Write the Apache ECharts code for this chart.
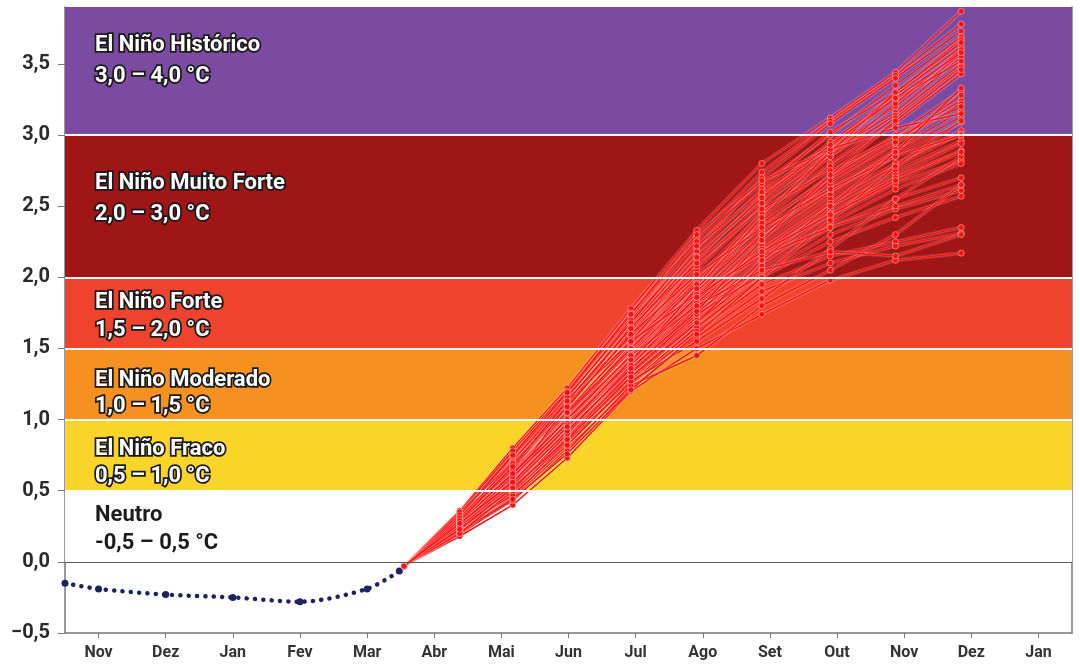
<!DOCTYPE html>
<html>
<head>
<meta charset="utf-8">
<script src="https://cdn.jsdelivr.net/npm/echarts@6/dist/echarts.min.js"></script>
<style>
  html, body { margin: 0; padding: 0; background: #fff; }
  #chart { width: 1080px; height: 666px; }
</style>
</head>
<body>
<div id="chart"></div>
<script>
// month ticks, Nov .. Jan of the following year
var months = ['Nov', 'Dez', 'Jan', 'Fev', 'Mar', 'Abr', 'Mai', 'Jun', 'Jul', 'Ago', 'Set', 'Out', 'Nov', 'Dez', 'Jan'];

// observed anomaly (dotted navy line)
var histX = [-0.5, 0, 1, 2, 3, 4, 4.48];
var histY = [-0.15, -0.19, -0.23, -0.25, -0.28, -0.19, -0.065];

// forecast dates (month index) and ensemble members
var fcX = [4.55, 5.38, 6.17, 6.98, 7.93, 8.91, 9.88, 10.9, 11.87, 12.85];
var members = [
  [-0.03, 0.36, 0.80, 1.22, 1.78, 2.33, 2.80, 3.12, 3.44, 3.87],
  [-0.03, 0.34, 0.76, 1.18, 1.72, 2.28, 2.74, 3.10, 3.42, 3.78],
  [-0.03, 0.33, 0.72, 1.15, 1.70, 2.20, 2.70, 3.08, 3.40, 3.73],
  [-0.03, 0.35, 0.78, 1.20, 1.75, 2.25, 2.66, 3.00, 3.35, 3.69],
  [-0.03, 0.31, 0.70, 1.12, 1.66, 2.18, 2.62, 3.02, 3.30, 3.67],
  [-0.03, 0.32, 0.68, 1.10, 1.60, 2.12, 2.58, 2.95, 3.28, 3.62],
  [-0.03, 0.30, 0.66, 1.08, 1.62, 2.15, 2.55, 2.90, 3.20, 3.57],
  [-0.03, 0.29, 0.71, 1.14, 1.58, 2.05, 2.50, 2.88, 3.16, 3.55],
  [-0.03, 0.28, 0.64, 1.05, 1.55, 2.08, 2.52, 2.85, 3.14, 3.50],
  [-0.03, 0.30, 0.62, 1.02, 1.52, 2.00, 2.45, 2.80, 3.12, 3.48],
  [-0.03, 0.27, 0.60, 1.00, 1.50, 1.98, 2.40, 2.78, 3.08, 3.43],
  [-0.03, 0.26, 0.63, 1.04, 1.48, 1.95, 2.36, 2.72, 3.00, 3.31],
  [-0.03, 0.29, 0.58, 0.98, 1.46, 1.92, 2.38, 2.70, 2.98, 3.24],
  [-0.03, 0.25, 0.61, 1.06, 1.54, 1.96, 2.30, 2.65, 2.94, 3.22],
  [-0.03, 0.28, 0.57, 0.96, 1.44, 1.90, 2.32, 2.62, 2.90, 3.17],
  [-0.03, 0.24, 0.56, 0.94, 1.42, 1.88, 2.28, 2.60, 2.88, 3.13],
  [-0.03, 0.27, 0.59, 1.01, 1.45, 1.85, 2.25, 2.58, 2.85, 3.09],
  [-0.03, 0.26, 0.55, 0.93, 1.40, 1.84, 2.22, 2.55, 2.80, 3.03],
  [-0.03, 0.23, 0.54, 0.95, 1.38, 1.82, 2.20, 2.52, 2.78, 3.01],
  [-0.03, 0.25, 0.53, 0.92, 1.36, 1.80, 2.18, 2.50, 2.75, 2.96],
  [-0.03, 0.27, 0.57, 0.90, 1.35, 1.78, 2.15, 2.48, 2.72, 2.94],
  [-0.03, 0.22, 0.52, 0.89, 1.34, 1.75, 2.12, 2.45, 2.70, 2.89],
  [-0.03, 0.24, 0.50, 0.88, 1.32, 1.72, 2.10, 2.42, 2.66, 2.82],
  [-0.03, 0.26, 0.55, 0.91, 1.30, 1.70, 2.08, 2.38, 2.62, 2.80],
  [-0.03, 0.21, 0.48, 0.86, 1.28, 1.68, 2.05, 2.35, 2.55, 2.70],
  [-0.03, 0.23, 0.51, 0.87, 1.33, 1.74, 2.02, 2.30, 2.48, 2.61],
  [-0.03, 0.20, 0.46, 0.84, 1.26, 1.65, 2.00, 2.25, 2.42, 2.57],
  [-0.03, 0.22, 0.49, 0.85, 1.25, 1.62, 1.95, 2.15, 2.25, 2.35],
  [-0.03, 0.19, 0.45, 0.80, 1.22, 1.58, 1.90, 2.10, 2.22, 2.31],
  [-0.03, 0.18, 0.40, 0.73, 1.20, 1.50, 1.74, 1.98, 2.12, 2.17],
  [-0.03, 0.20, 0.43, 0.78, 1.24, 1.45, 1.80, 2.05, 2.30, 2.65],
  [-0.03, 0.24, 0.47, 0.82, 1.27, 1.55, 1.85, 2.20, 2.55, 2.85],
  [-0.03, 0.32, 0.74, 1.16, 1.68, 2.22, 2.60, 2.92, 3.25, 3.52],
  [-0.03, 0.21, 0.44, 0.76, 1.21, 1.60, 2.00, 2.40, 2.78, 3.10],
  [-0.03, 0.35, 0.70, 1.05, 1.50, 1.95, 2.45, 2.85, 3.22, 3.60],
  [-0.03, 0.22, 0.58, 1.10, 1.65, 2.10, 2.48, 2.75, 2.98, 3.20],
  [-0.03, 0.30, 0.65, 1.12, 1.55, 1.88, 2.15, 2.35, 2.50, 2.65],
  [-0.03, 0.26, 0.60, 0.97, 1.40, 1.92, 2.42, 2.88, 3.30, 3.65],
  [-0.03, 0.33, 0.75, 1.19, 1.74, 2.30, 2.68, 2.90, 3.05, 3.15],
  [-0.03, 0.20, 0.50, 0.90, 1.38, 1.86, 2.30, 2.68, 2.95, 3.28],
  [-0.03, 0.28, 0.62, 1.00, 1.45, 1.80, 2.05, 2.18, 2.15, 2.30],
  [-0.03, 0.25, 0.54, 0.92, 1.36, 1.76, 2.26, 2.72, 3.10, 3.46],
  [-0.03, 0.31, 0.69, 1.09, 1.60, 2.02, 2.35, 2.62, 2.85, 3.00],
  [-0.03, 0.23, 0.52, 0.86, 1.30, 1.68, 2.12, 2.50, 2.88, 3.33],
  [-0.03, 0.29, 0.67, 1.13, 1.64, 2.14, 2.56, 2.93, 3.26, 3.58],
  [-0.03, 0.27, 0.56, 0.95, 1.42, 1.86, 2.18, 2.44, 2.68, 2.88]
];

// intensity bands
var bandNames = ['Neutro', 'El Niño Fraco', 'El Niño Moderado', 'El Niño Forte', 'El Niño Muito Forte', 'El Niño Histórico'];
var bandRanges = ['-0,5 – 0,5 °C', '0,5 – 1,0 °C', '1,0 – 1,5 °C', '1,5 – 2,0 °C', '2,0 – 3,0 °C', '3,0 – 4,0 °C'];
var bandLow = [0, 0.5, 1.0, 1.5, 2.0, 3.0];
var bandHigh = [0.5, 1.0, 1.5, 2.0, 3.0, 3.9];
var bandColors = ['#ffffff', '#fbd42a', '#f6901f', '#ef432e', '#a01515', '#7b4ba2'];
var bandOffsets = [3, 8, 9, 4, -7, -10];
var bandLineH = [28, 27, 26, 28, 31, 31];

var myChart = echarts.init(document.getElementById('chart'));

var bandData = bandNames.map(function (name, i) {
  var neutral = i === 0;
  return [{
    yAxis: bandLow[i],
    itemStyle: { color: bandColors[i] },
    label: {
      show: true,
      position: 'insideLeft',
      distance: 30,
      offset: [0, bandOffsets[i]],
      formatter: name + '\n' + bandRanges[i],
      color: neutral ? '#1c1c1c' : '#fff',
      textBorderColor: neutral ? 'transparent' : '#1a1a1a',
      textBorderWidth: neutral ? 0 : 3.5,
      fontFamily: 'Roboto',
      fontWeight: 'bold',
      fontSize: 22,
      lineHeight: bandLineH[i]
    }
  }, { yAxis: bandHigh[i] }];
});

var whiteLine = { color: '#fff', width: 2, type: 'solid' };

var series = [{
  name: 'faixas',
  type: 'line',
  data: [],
  z: 1,
  silent: true,
  markArea: { silent: true, data: bandData },
  markLine: {
    silent: true,
    symbol: 'none',
    label: { show: false },
    data: [
      { yAxis: 0.5, lineStyle: whiteLine },
      { yAxis: 1.0, lineStyle: whiteLine },
      { yAxis: 1.5, lineStyle: whiteLine },
      { yAxis: 2.0, lineStyle: whiteLine },
      { yAxis: 3.0, lineStyle: whiteLine },
      { yAxis: 0, lineStyle: { color: '#5a5a5a', width: 1.2, type: 'solid' } }
    ]
  }
}, {
  name: 'observado',
  type: 'line',
  z: 2,
  smooth: 0.3,
  data: histX.map(function (x, i) { return [x, histY[i]]; }),
  symbol: 'circle',
  symbolSize: 7,
  itemStyle: { color: '#1c2262' },
  lineStyle: { color: '#1c2262', width: 4.5, type: [0.1, 8.2], cap: 'round' }
}];

members.forEach(function (m, k) {
  series.push({
    name: 'membro ' + (k + 1),
    type: 'line',
    z: 3,
    data: fcX.map(function (x, i) { return [x, m[i]]; }),
    symbol: 'circle',
    symbolSize: 6,
    itemStyle: { color: '#ff1010', borderColor: 'rgba(255,200,200,0.9)', borderWidth: 0.6 },
    lineStyle: {
      color: '#ff1010',
      width: 1.5,
      shadowColor: 'rgba(255,235,235,0.8)',
      shadowBlur: 2
    }
  });
});

var option = {
  animation: false,
  backgroundColor: '#fff',
  grid: { left: 65, right: 8, top: 7, bottom: 33 },
  xAxis: {
    type: 'value',
    min: -0.5,
    max: 14.5,
    splitLine: { show: false },
    axisLine: { onZero: false, lineStyle: { color: '#777', width: 1.5 } },
    axisTick: { customValues: months.map(function (m, i) { return i; }), length: 5, lineStyle: { color: '#777' } },
    axisLabel: {
      customValues: months.map(function (m, i) { return i; }),
      formatter: function (v) { return months[Math.round(v)]; },
      margin: 12,
      color: '#333',
      fontFamily: 'Roboto',
      fontWeight: 'bold',
      fontSize: 16
    }
  },
  yAxis: [{
    type: 'value',
    min: -0.5,
    max: 3.9,
    interval: 0.5,
    splitLine: { show: false },
    axisLine: { show: true, onZero: false, lineStyle: { color: '#777', width: 1.5 } },
    axisTick: { show: true, length: 7, lineStyle: { color: '#777' } },
    axisLabel: {
      showMaxLabel: false,
      margin: 15,
      color: '#2a2a2a',
      fontFamily: 'Roboto',
      fontWeight: 'bold',
      fontSize: 20,
      formatter: function (v) {
        var s = Math.abs(v).toFixed(1).replace('.', ',');
        return v < 0 ? '\u2212' + s : s;
      }
    }
  }, {
    type: 'value',
    position: 'right',
    min: -0.5,
    max: 3.9,
    splitLine: { show: false },
    axisLabel: { show: false },
    axisTick: { show: false },
    axisLine: { show: true, onZero: false, lineStyle: { color: '#777', width: 1.5 } }
  }],
  series: series
};
myChart.setOption(option);
</script>
</body>
</html>
